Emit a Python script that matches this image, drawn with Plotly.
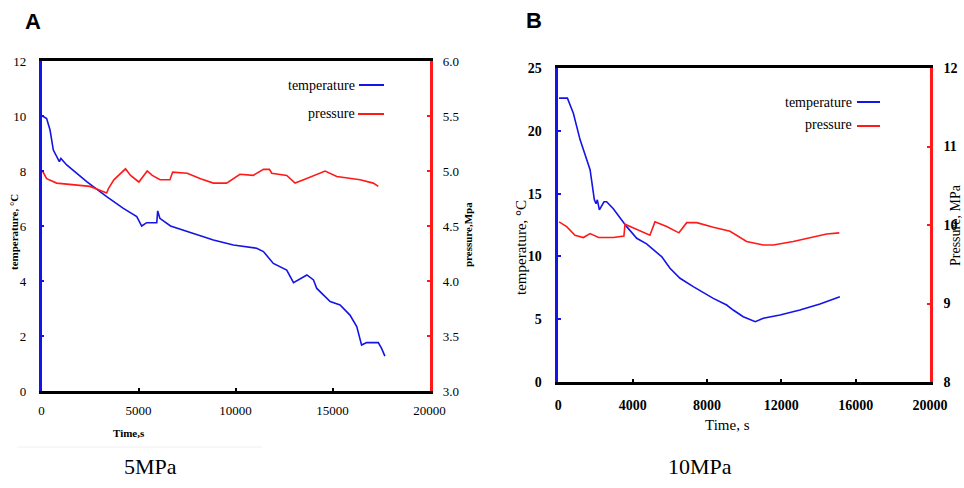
import plotly.graph_objects as go

# ---------------- data ----------------
# Panel A (5 MPa)
a_temp_time = [50, 265, 440, 610, 920, 1000, 1300, 2330, 3360, 4220, 4910, 5165, 5420, 5940, 5990, 6100,
               6650, 7300, 7830, 8860, 9890, 10500, 11090, 11440, 11950, 12640, 12990, 13680, 14020, 14190,
               14880, 15390, 15900, 16250, 16500, 16760, 17360, 17530, 17700]
a_temp = [10.0, 9.91, 9.49, 8.76, 8.34, 8.46, 8.22, 7.61, 7.07, 6.64, 6.34, 6.0, 6.12, 6.12, 6.55, 6.28,
          6.0, 5.85, 5.71, 5.49, 5.31, 5.25, 5.19, 5.07, 4.64, 4.4, 3.94, 4.22, 4.04, 3.73,
          3.25, 3.13, 2.76, 2.34, 1.67, 1.76, 1.76, 1.55, 1.27]
a_pres_time = [50, 265, 780, 1810, 2500, 3360, 3450, 3730, 4070, 4330, 4590, 5020, 5450, 5710, 6110, 6620,
               6760, 7510, 8200, 8860, 9540, 10230, 10910, 11440, 11750, 11870, 12640, 13070, 13510, 14020,
               14620, 15220, 16420, 17100, 17360]
a_pres = [5.0, 4.93, 4.89, 4.87, 4.86, 4.80, 4.84, 4.92, 4.98, 5.02, 4.96, 4.90, 5.00, 4.96, 4.92, 4.92,
          4.99, 4.98, 4.93, 4.89, 4.89, 4.97, 4.96, 5.015, 5.015, 4.98, 4.96, 4.89, 4.92, 4.96,
          5.00, 4.95, 4.92, 4.89, 4.86]

# Panel B (10 MPa)
b_temp_time = [40, 490, 810, 1170, 1710, 1940, 2030, 2100, 2210, 2460, 2600, 2960, 3680, 4220, 4750, 5560,
               6010, 6550, 7260, 8340, 9060, 9410, 9950, 10490, 10600, 11030, 11930, 13000, 14080, 15150]
b_temp = [22.6, 22.6, 21.4, 19.3, 16.9, 14.5, 14.2, 14.5, 13.7, 14.35, 14.35, 13.8, 12.37, 11.44, 11.0, 9.98,
          9.05, 8.26, 7.59, 6.66, 6.13, 5.73, 5.2, 4.88, 4.8, 5.07, 5.33, 5.73, 6.21, 6.79]
b_pres_time = [40, 450, 900, 1350, 1710, 2170, 2960, 3530, 3590, 4220, 4930, 5200, 5830, 6490, 6910, 7450,
               8340, 9240, 9950, 10130, 11030, 11570, 12640, 13720, 14440, 15120]
b_pres = [10.04, 9.98, 9.87, 9.84, 9.89, 9.84, 9.84, 9.86, 10.01, 9.94, 9.87, 10.04, 9.98, 9.90, 10.03, 10.03,
          9.97, 9.92, 9.82, 9.79, 9.745, 9.745, 9.79, 9.85, 9.885, 9.90]

a_x_ticks = [0, 5000, 10000, 15000, 20000]
a_x_labels = ["0", "5000", "10000", "15000", "20000"]
b_x_ticks = [0, 4000, 8000, 12000, 16000, 20000]
b_x_labels = ["0", "4000", "8000", "12000", "16000", "20000"]

BLUE = "#1414e6"
RED = "#ff1a1a"
SERIF = "Liberation Serif, Times New Roman, serif"

W, H = 964, 488
def px(x):
    return x / W
def py(y):
    return 1 - y / H

fig = go.Figure()
fig.add_trace(go.Scatter(x=a_temp_time, y=a_temp, mode="lines", line=dict(color=BLUE, width=1.6),
                         xaxis="x", yaxis="y", showlegend=False))
fig.add_trace(go.Scatter(x=a_pres_time, y=a_pres, mode="lines", line=dict(color=RED, width=1.6),
                         xaxis="x", yaxis="y2", showlegend=False))
fig.add_trace(go.Scatter(x=b_temp_time, y=b_temp, mode="lines", line=dict(color=BLUE, width=1.6),
                         xaxis="x2", yaxis="y3", showlegend=False))
fig.add_trace(go.Scatter(x=b_pres_time, y=b_pres, mode="lines", line=dict(color=RED, width=1.6),
                         xaxis="x2", yaxis="y4", showlegend=False))

tickfontA = dict(family=SERIF, size=13, color="black")
tickfontB = dict(family=SERIF, size=14, color="black", weight="bold")

common = dict(showgrid=False, zeroline=False, ticks="inside", ticklen=3, tickwidth=2, linewidth=2.5,
              showline=True, automargin=False)

dA_x = [px(41.5), px(429.5)]
dA_y = [py(391), py(61)]
dB_x = [px(558.3), px(930)]
dB_y = [py(382), py(68)]

fig.update_layout(
    width=W, height=H, margin=dict(l=0, r=0, t=0, b=0, pad=0, autoexpand=False),
    paper_bgcolor="white", plot_bgcolor="white",
    xaxis=dict(domain=dA_x, anchor="y", range=[0, 20000], tickvals=a_x_ticks, ticktext=a_x_labels,
               linecolor="black", tickcolor="black", mirror=True, tickfont=tickfontA,
               ticklabelstandoff=6, **common),
    yaxis=dict(domain=dA_y, anchor="x", range=[0, 12], dtick=2, linecolor=BLUE, tickcolor=BLUE,
               tickfont=tickfontA, ticklabelstandoff=10, **common),
    yaxis2=dict(domain=dA_y, anchor="x", overlaying="y", side="right", range=[3, 6], dtick=0.5,
                tickformat=".1f", linecolor=RED, tickcolor=RED, tickfont=tickfontA,
                ticklabelstandoff=8, **common),
    xaxis2=dict(domain=dB_x, anchor="y3", range=[0, 20000], tickvals=b_x_ticks, ticktext=b_x_labels,
                linecolor="black", tickcolor="black", mirror=True, tickfont=tickfontB,
                ticklabelstandoff=8, **common),
    yaxis3=dict(domain=dB_y, anchor="x2", range=[0, 25], dtick=5, linecolor=BLUE, tickcolor=BLUE,
                tickfont=tickfontB, ticklabelstandoff=11, **common),
    yaxis4=dict(domain=dB_y, anchor="x2", overlaying="y3", side="right", range=[8, 12], dtick=1,
                linecolor=RED, tickcolor=RED, tickfont=tickfontB, ticklabelstandoff=8, **common),
)

ann = []
def text(x, y, s, size, bold=False, angle=0, family=SERIF, xanchor="center", color="black"):
    ann.append(dict(x=px(x), y=py(y), xref="paper", yref="paper", text=(f"<b>{s}</b>" if bold else s),
                    showarrow=False, textangle=angle, xanchor=xanchor, yanchor="middle",
                    font=dict(family=family, size=size, color=color)))

# panel letters
text(33, 22, "A", 22, bold=True, family="Liberation Sans, Arial, sans-serif")
text(534, 20, "B", 22, bold=True, family="Liberation Sans, Arial, sans-serif")
# axis titles A
text(14, 232, "temperature, °C", 11, bold=True, angle=-90)
text(468, 235, "pressure,Mpa", 11, bold=True, angle=-90)
text(129, 433, "Time,s", 11, bold=True)
# axis titles B
text(521, 248, "temperature, °C", 15, angle=-90)
text(955, 225, "Pressure, MPa", 14, angle=-90)
text(727, 425, "Time, s", 15)
# captions
text(150, 466, "5MPa", 22)
text(700, 466, "10MPa", 22)
# legends (text)
text(357, 85, "temperature", 14, xanchor="right")
text(357, 113, "pressure", 14, xanchor="right")
text(854, 102, "temperature", 14, xanchor="right")
text(854, 125, "pressure", 14, xanchor="right")

shapes = [
    dict(type="line", xref="paper", yref="paper", x0=px(359), x1=px(384), y0=py(85), y1=py(85),
         line=dict(color=BLUE, width=2)),
    dict(type="line", xref="paper", yref="paper", x0=px(358), x1=px(384), y0=py(114), y1=py(114),
         line=dict(color=RED, width=2)),
    dict(type="line", xref="paper", yref="paper", x0=px(857), x1=px(880), y0=py(102), y1=py(102),
         line=dict(color=BLUE, width=2)),
    dict(type="line", xref="paper", yref="paper", x0=px(857), x1=px(880), y0=py(126), y1=py(126),
         line=dict(color=RED, width=2)),
    dict(type="line", xref="paper", yref="paper", x0=px(17), x1=px(262), y0=py(447), y1=py(447),
         line=dict(color="#f0f0f0", width=1)),
]

fig.update_layout(annotations=ann, shapes=shapes)
fig.write_html(
    "out.html",
    config={"displayModeBar": False},
    post_script="document.body.style.margin='0';document.body.style.padding='0';"
                "document.documentElement.style.overflow='hidden';",
)
